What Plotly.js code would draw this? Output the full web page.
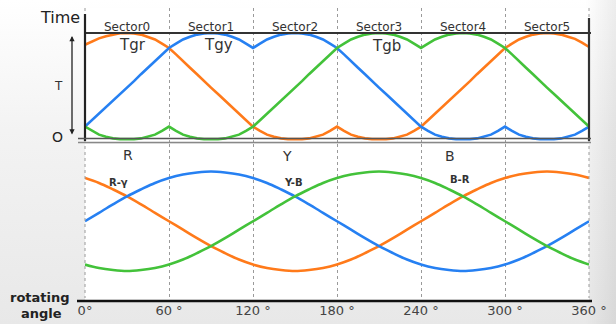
<!DOCTYPE html>
<html>
<head>
<meta charset="utf-8">
<script src="https://cdn.plot.ly/plotly-3.0.1.min.js"></script>
<style>
  html, body { margin: 0; padding: 0; }
  body {
    width: 616px; height: 324px; overflow: hidden;
    background:
      linear-gradient(90deg, rgba(0,0,0,0) 95%, rgba(0,0,0,0.07) 100%),
      linear-gradient(180deg, #ffffff 0%, #f3f3f3 40%, #e8e8e8 100%);
  }
  #chart { width: 616px; height: 324px; }
</style>
</head>
<body>
<div id="chart"></div>
<script>
// Rotor angle samples (degrees)
const angleFine = [0,5,10,15,20,25,30,35,40,45,50,55,60,65,70,75,80,85,90,95,100,105,110,115,
  120,125,130,135,140,145,150,155,160,165,170,175,180,185,190,195,200,205,210,215,220,225,230,235,
  240,245,250,255,260,265,270,275,280,285,290,295,300,305,310,315,320,325,330,335,340,345,350,355,360];
const angleCoarse = [0,10,20,30,40,50,60,70,80,90,100,110,120,130,140,150,160,170,180,190,200,210,
  220,230,240,250,260,270,280,290,300,310,320,330,340,350,360];

// Switching times per phase over one turn (fraction of period T)
const tgr = [0.89,0.92,0.95,0.97,0.987,0.997,1.0,0.996,0.985,0.965,0.94,0.90,0.86,
  0.80,0.735,0.675,0.615,0.55,0.49,0.43,0.37,0.305,0.245,0.185,0.125,
  0.085,0.05,0.03,0.015,0.008,0.005,0.008,0.015,0.03,0.05,0.085,0.125,
  0.085,0.05,0.03,0.015,0.008,0.005,0.008,0.015,0.03,0.05,0.085,0.125,
  0.185,0.245,0.305,0.37,0.43,0.49,0.55,0.615,0.675,0.735,0.80,0.86,
  0.90,0.94,0.965,0.985,0.996,1.0,0.996,0.985,0.965,0.945,0.91,0.87];
const tgy = [0.125,0.185,0.245,0.305,0.37,0.43,0.49,0.55,0.615,0.675,0.735,0.80,0.86,
  0.90,0.94,0.965,0.985,0.996,1.0,0.996,0.985,0.965,0.94,0.90,0.86,
  0.90,0.94,0.965,0.985,0.996,1.0,0.996,0.985,0.965,0.94,0.90,0.86,
  0.80,0.735,0.675,0.615,0.55,0.49,0.43,0.37,0.305,0.245,0.185,0.125,
  0.085,0.05,0.03,0.015,0.008,0.005,0.008,0.015,0.03,0.05,0.085,0.125,
  0.085,0.05,0.03,0.015,0.008,0.005,0.008,0.015,0.03,0.05,0.085,0.125];
const tgb = [0.125,0.085,0.05,0.03,0.015,0.008,0.005,0.008,0.015,0.03,0.05,0.085,0.125,
  0.085,0.05,0.03,0.015,0.008,0.005,0.008,0.015,0.03,0.05,0.085,0.125,
  0.185,0.245,0.305,0.37,0.43,0.49,0.55,0.615,0.675,0.735,0.80,0.86,
  0.90,0.94,0.965,0.985,0.996,1.0,0.996,0.985,0.965,0.94,0.90,0.86,
  0.90,0.94,0.965,0.985,0.996,1.0,0.996,0.985,0.965,0.94,0.90,0.86,
  0.80,0.735,0.675,0.615,0.55,0.49,0.43,0.37,0.305,0.245,0.185,0.125];

// Line-to-line reference voltages (per unit)
const vRY = [0.87,0.77,0.64,0.5,0.34,0.17,0,-0.17,-0.34,-0.5,-0.64,-0.77,-0.87,-0.94,-0.98,-1,-0.98,-0.94,
  -0.87,-0.77,-0.64,-0.5,-0.34,-0.17,0,0.17,0.34,0.5,0.64,0.77,0.87,0.94,0.98,1,0.98,0.94,0.87];
const vYB = [0,0.17,0.34,0.5,0.64,0.77,0.87,0.94,0.98,1,0.98,0.94,0.87,0.77,0.64,0.5,0.34,0.17,
  0,-0.17,-0.34,-0.5,-0.64,-0.77,-0.87,-0.94,-0.98,-1,-0.98,-0.94,-0.87,-0.77,-0.64,-0.5,-0.34,-0.17,0];
const vBR = [-0.87,-0.94,-0.98,-1,-0.98,-0.94,-0.87,-0.77,-0.64,-0.5,-0.34,-0.17,0,0.17,0.34,0.5,0.64,0.77,
  0.87,0.94,0.98,1,0.98,0.94,0.87,0.77,0.64,0.5,0.34,0.17,0,-0.17,-0.34,-0.5,-0.64,-0.77,-0.87];

// Axis labels
const tickAngles = [0,60,120,180,240,300,360];
const tickLabels = ['0°','60 °','120 °','180 °','240 °','300 °','360 °'];
const sectorNames = ['Sector0','Sector1','Sector2','Sector3','Sector4','Sector5'];
const sectorCentres = [30,90,150,210,270,330];

const ORANGE = '#FF7A1A', BLUE = '#2680F2', GREEN = '#43C23A';
const FONT = 'DejaVu Sans, Verdana, sans-serif';

// pixel -> paper helpers for frame decorations (plot area 85..589 x 8..301)
const PX = p => (p - 85) / 504;
const PY = p => (301 - p) / 293;

function line(x, y, c, yaxis, shape) {
  return { x: x, y: y, yaxis: yaxis, type: 'scatter', mode: 'lines',
           line: { color: c, width: 2.6, shape: shape }, hoverinfo: 'skip' };
}

const data = [
  line(angleFine, tgr, ORANGE, 'y', 'linear'),
  line(angleFine, tgy, BLUE, 'y', 'linear'),
  line(angleFine, tgb, GREEN, 'y', 'linear'),
  line(angleCoarse, vRY, ORANGE, 'y2', 'spline'),
  line(angleCoarse, vYB, BLUE, 'y2', 'spline'),
  line(angleCoarse, vBR, GREEN, 'y2', 'spline')
];

const txt = (text, x, y, size, opts) => Object.assign({
  text: text, x: x, y: y, showarrow: false, xanchor: 'center', yanchor: 'middle',
  font: { family: FONT, size: size, color: '#333' }
}, opts || {});
const dark = size => ({ family: FONT, size: size, color: '#222' });

const annotations = [];
sectorNames.forEach((s, i) => annotations.push(
  txt(s, sectorCentres[i], 1.06, 12, { xref: 'x', yref: 'y' })));
annotations.push(txt('Tgr', 34, 0.888, 15, { xref: 'x', yref: 'y' }));
annotations.push(txt('Tgy', 95, 0.888, 15, { xref: 'x', yref: 'y' }));
annotations.push(txt('Tgb', 215, 0.879, 15, { xref: 'x', yref: 'y' }));
annotations.push(txt('R', 31, 1.33, 14, { xref: 'x', yref: 'y2' }));
annotations.push(txt('Y', 144, 1.31, 14, { xref: 'x', yref: 'y2' }));
annotations.push(txt('B', 261, 1.31, 14, { xref: 'x', yref: 'y2' }));
annotations.push(txt('<b>R-γ</b>', 24, 0.77, 10, { xref: 'x', yref: 'y2' }));
annotations.push(txt('<b>Y-B</b>', 149, 0.77, 10, { xref: 'x', yref: 'y2' }));
annotations.push(txt('<b>B-R</b>', 268, 0.83, 10, { xref: 'x', yref: 'y2' }));
annotations.push(txt('Time', PX(60), PY(18), 16, { xref: 'paper', yref: 'paper', font: dark(16) }));
annotations.push(txt('T', PX(58), PY(86), 12, { xref: 'paper', yref: 'paper' }));
annotations.push(txt('O', PX(57), PY(137), 14, { xref: 'paper', yref: 'paper', font: dark(14) }));
annotations.push(txt('<b>rotating</b>', PX(40), PY(297.5), 13, { xref: 'paper', yref: 'paper', font: dark(13) }));
annotations.push(txt('<b>angle</b>', PX(41), PY(313.5), 13, { xref: 'paper', yref: 'paper', font: dark(13) }));
// double-headed time arrow
annotations.push({ text: '', x: PX(72), y: PY(36), xref: 'paper', yref: 'paper',
  showarrow: true, ax: 0, ay: 100, arrowside: 'end+start', arrowhead: 2,
  arrowsize: 0.8, arrowwidth: 1.3, arrowcolor: '#222' });

const seg = (x0, y0, x1, y1, c, w, dash) => ({ type: 'line', xref: 'paper', yref: 'paper',
  x0: PX(x0), y0: PY(y0), x1: PX(x1), y1: PY(y1), line: { color: c, width: w, dash: dash || 'solid' } });

const shapes = [
  // dotted sector boundaries at the ends of the turn
  seg(85, 8, 85, 298, '#9a9a9a', 1, 'dot'),
  seg(589, 8, 589, 298, '#9a9a9a', 1, 'dot'),
  // frame of the timing panel
  seg(85, 33, 591, 33, '#333', 1.8),
  seg(85, 14, 85, 141, '#222', 2.2),
  seg(589, 18, 589, 141, '#333', 2.2),
  seg(78, 138.5, 591, 138.5, '#555', 1.5),
  seg(78, 142.5, 591, 142.5, '#888', 1.5),
  // angle axis
  seg(77, 301, 592, 301, '#111', 2.6)
];

const layout = {
  width: 616, height: 324,
  margin: { l: 85, r: 27, t: 8, b: 23, pad: 0 },
  paper_bgcolor: 'rgba(0,0,0,0)',
  plot_bgcolor: '#ffffff',
  showlegend: false,
  hovermode: false,
  xaxis: {
    range: [0, 360], anchor: 'y2',
    tickmode: 'array', tickvals: tickAngles, ticktext: tickLabels,
    ticks: '', showline: false, zeroline: false,
    showgrid: true, gridcolor: '#9a9a9a', griddash: 'dot', gridwidth: 1,
    tickfont: { family: FONT, size: 13, color: '#444' }
  },
  yaxis: { domain: [PY(142), 1], range: [-0.0187, 1.2336], visible: false, fixedrange: true },
  yaxis2: { domain: [0, PY(144)], range: [-1.603, 1.5528], visible: false, fixedrange: true },
  annotations: annotations,
  shapes: shapes
};

Plotly.newPlot('chart', data, layout, { staticPlot: true, displayModeBar: false });
</script>
</body>
</html>
